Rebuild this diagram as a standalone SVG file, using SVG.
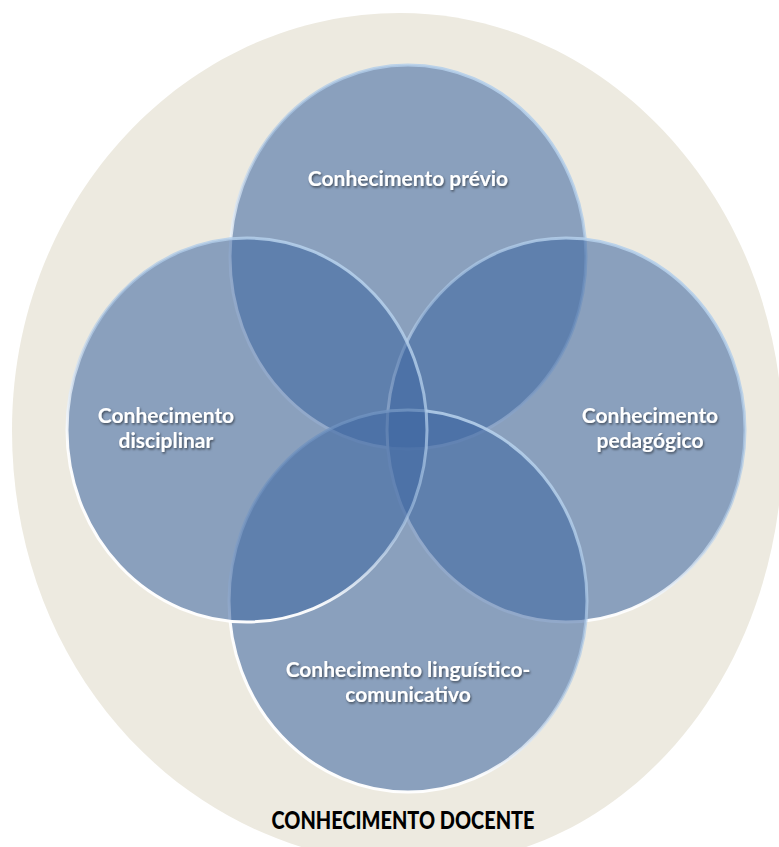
<svg xmlns="http://www.w3.org/2000/svg" width="779" height="847" viewBox="0 0 779 847">
  <defs>
    <linearGradient id="rim" x1="0.8" y1="0" x2="0.2" y2="1">
      <stop offset="0" stop-color="#b8d2ec" stop-opacity="0.95"/>
      <stop offset="0.45" stop-color="#a9c6e6" stop-opacity="0.6"/>
      <stop offset="0.75" stop-color="#ffffff" stop-opacity="0.95"/>
      <stop offset="1" stop-color="#ffffff" stop-opacity="1"/>
    </linearGradient>
    <filter id="shadow" x="-10%" y="-30%" width="120%" height="160%">
      <feDropShadow dx="1" dy="1.5" stdDeviation="1" flood-color="#000" flood-opacity="0.55"/>
    </filter>
  </defs>
  <style>
    .bubble { fill: #3f68a2; fill-opacity: 0.57; stroke: url(#rim); stroke-width: 3; }
    .lbl { font-family: Lato, "Open Sans", "Liberation Sans", sans-serif; font-weight: bold; font-size: 21px; fill: #ffffff; text-anchor: middle; filter: url(#shadow); }
    .title { font-family: Lato, "Open Sans", "Liberation Sans", sans-serif; font-weight: 900; font-size: 24px; fill: #000000; text-anchor: middle; }
  </style>

  <g id="background">
    <path d="M400,13 C610,13 783,204 783,440 C783,683 619,865 420,865 C195,865 12,679 12,430 C12,200 186,13 400,13 Z" fill="#edeae0"/>
  </g>

  <g id="node-previo">
    <ellipse class="bubble" cx="408" cy="257" rx="178" ry="192"/>
    <text class="lbl" x="408" y="186">Conhecimento prévio</text>
  </g>

  <g id="node-pedagogico">
    <ellipse class="bubble" cx="566" cy="430" rx="179" ry="192"/>
    <text class="lbl" x="650" y="423">Conhecimento</text>
    <text class="lbl" x="650" y="448">pedagógico</text>
  </g>

  <g id="node-linguistico">
    <ellipse class="bubble" cx="408" cy="601" rx="179" ry="191"/>
    <text class="lbl" x="408" y="677">Conhecimento linguístico-</text>
    <text class="lbl" x="408" y="702">comunicativo</text>
  </g>

  <g id="node-disciplinar">
    <ellipse class="bubble" cx="247" cy="430" rx="180" ry="192"/>
    <text class="lbl" x="166" y="423">Conhecimento</text>
    <text class="lbl" x="166" y="448">disciplinar</text>
  </g>

  <g id="connectors"/>

  <g id="title">
    <text class="title" x="403" y="829" textLength="263" lengthAdjust="spacingAndGlyphs">CONHECIMENTO DOCENTE</text>
  </g>
</svg>
